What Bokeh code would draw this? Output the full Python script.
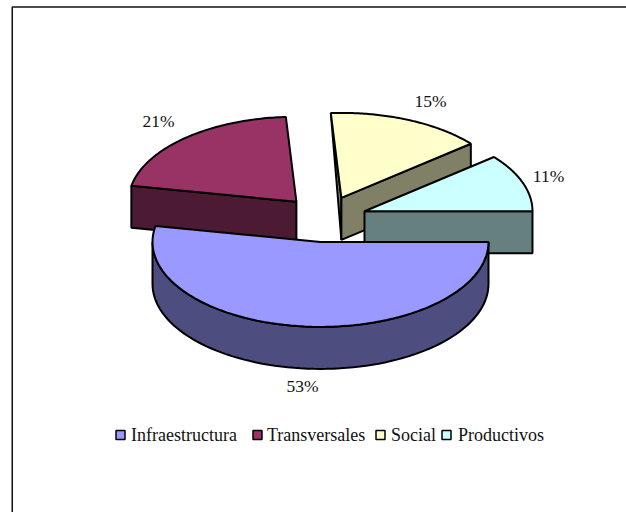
import math
from bokeh.plotting import figure
from bokeh.models import Range1d
from bokeh.core.properties import value
from bokeh.embed import file_html
from bokeh.resources import INLINE

categories = ["Infraestructura", "Transversales", "Social", "Productivos"]
shares = [53, 21, 15, 11]
labels = ["53%", "21%", "15%", "11%"]
top_colors = ["#9999FF", "#993366", "#FFFFCC", "#CCFFFF"]
wall_colors = ["#4D4D80", "#4D1A33", "#808066", "#668080"]

W, H = 626, 512
CX, CY, RX, RY, DEPTH = 324, 218.5, 168, 85, 42
EX, EY = 42.5, 23

p = figure(width=W, height=H, output_backend="svg", toolbar_location=None,
           x_range=Range1d(0, W), y_range=Range1d(H, 0),
           min_border=0, outline_line_color=None)
p.axis.visible = False
p.grid.visible = False
p.background_fill_color = "white"

# chart frame
p.line([11.75, 11.75, 626], [512, 6.5, 6.5], line_color="#111111", line_width=1.5)

def pt(c, t):
    return c[0] + RX * math.cos(t), c[1] + RY * math.sin(t)

slices = []
start = 0.0
for cat, s in zip(categories, shares):
    a0 = start
    a1 = start + s / 100 * 2 * math.pi
    mid = (a0 + a1) / 2
    c = (CX + EX * math.cos(mid), CY + EY * math.sin(mid))
    slices.append((cat, a0, a1, c))
    start = a1

def arc(c, a0, a1, n=80):
    pts = [pt(c, a0 + (a1 - a0) * i / n) for i in range(n + 1)]
    return [q[0] for q in pts], [q[1] for q in pts]

def draw_poly(xs, ys, color):
    p.patch(xs, ys, fill_color=color, line_color="black", line_width=2)

order = [2, 3, 1, 0]
for i in order:
    cat, a0, a1, c = slices[i]
    wall = wall_colors[i]
    if i == 0:
        xs, ys = arc(c, a0, math.pi)
        draw_poly(xs + xs[::-1], ys + [y + DEPTH for y in ys[::-1]], wall)
    else:
        e = pt(c, a0)
        f = pt(c, a1)
        if i == 2:
            draw_poly([e[0], c[0], c[0]], [e[1], c[1], c[1] + DEPTH], wall)
            draw_poly([c[0], f[0], f[0], c[0]], [c[1], f[1], f[1] + DEPTH, c[1] + DEPTH], wall)
        elif i == 1:
            draw_poly([e[0], c[0], c[0], e[0]], [e[1], c[1], c[1] + DEPTH, e[1] + DEPTH], wall)
        else:
            draw_poly([c[0], f[0], f[0], c[0]], [c[1], f[1], f[1] + DEPTH, c[1] + DEPTH], wall)
    xs, ys = arc(c, a0, a1)
    draw_poly([c[0]] + xs, [c[1]] + ys, top_colors[i])

FONT = "Liberation Serif"
label_x = [302, 158, 430, 548]
label_y = [385, 120, 100.5, 175]
p.text(label_x, label_y, text=labels, text_font=value(FONT), text_font_size="17.5px",
       text_color="#111111", text_align="center", text_baseline="middle")

swatch_x = [120, 257, 380, 446]
text_x = [130.5, 266.5, 390.5, 457.5]
legend_y = 434.5
p.rect(swatch_x, [legend_y] * 4, width=9, height=9, fill_color=top_colors,
       line_color="black", line_width=1.5)
p.text(text_x, [legend_y - 0.5] * 4, text=categories, text_font=value(FONT), text_font_size="18px",
       text_color="#111111", text_align="left", text_baseline="middle")

open("out.html", "w").write(file_html(p, INLINE))
